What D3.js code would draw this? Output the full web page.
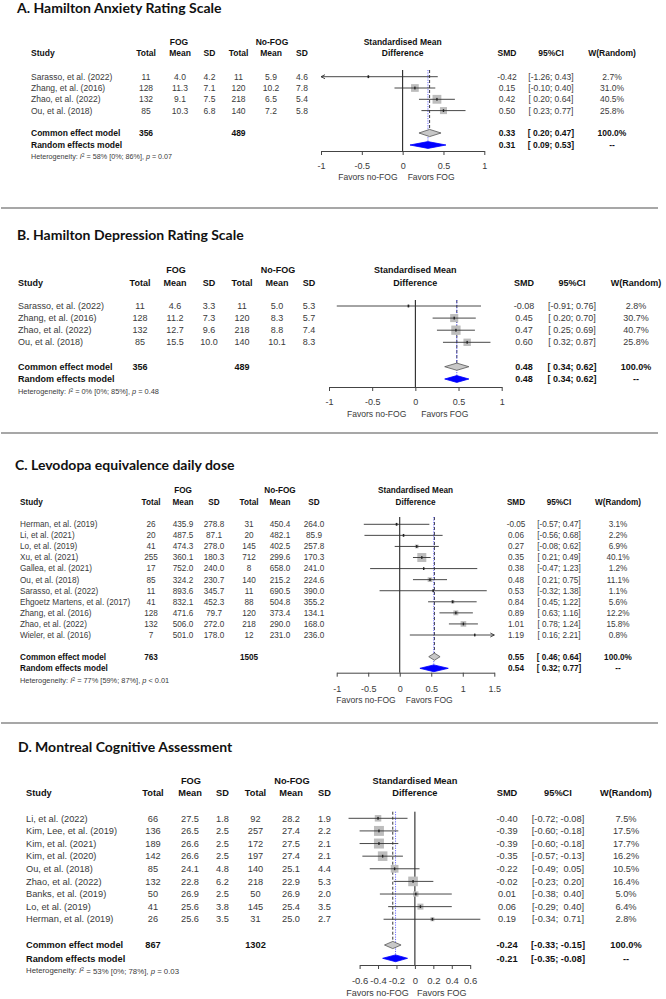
<!DOCTYPE html>
<html><head><meta charset="utf-8">
<script src="https://cdn.jsdelivr.net/npm/d3@7"></script>
<style>
html,body{margin:0;padding:0;background:#fff;}
svg text{font-family:"Liberation Sans",Arial,sans-serif;white-space:pre;}
</style></head>
<body><svg id="chart" width="666" height="999"></svg>
<script>
// ---------------- DATA ----------------
// Panel A: Hamilton Anxiety Rating Scale
const studiesA = ["Sarasso, et al. (2022)","Zhang, et al. (2016)","Zhao, et al. (2022)","Ou, et al. (2018)"];
const fogTotalA = [11,128,132,85];
const fogMeanA = [4.0,11.3,9.1,10.3];
const fogSdA = [4.2,7.1,7.5,6.8];
const nofogTotalA = [11,120,218,140];
const nofogMeanA = [5.9,10.2,6.5,7.2];
const nofogSdA = [4.6,7.8,5.4,5.8];
const smdA = [-0.42,0.15,0.42,0.50];
const ciLowA = [-1.26,-0.10,0.20,0.23];
const ciHighA = [0.43,0.40,0.64,0.77];
const weightA = [2.7,31.0,40.5,25.8];
const totalsA = [356,489];
const commonA = [0.33,0.20,0.47];
const randomA = [0.31,0.09,0.53];
const hetA = ["58%","[0%; 86%]","= 0.07"];
const ticksA = [-1,-0.5,0,0.5,1];

// Panel B: Hamilton Depression Rating Scale
const studiesB = ["Sarasso, et al. (2022)","Zhang, et al. (2016)","Zhao, et al. (2022)","Ou, et al. (2018)"];
const fogTotalB = [11,128,132,85];
const fogMeanB = [4.6,11.2,12.7,15.5];
const fogSdB = [3.3,7.3,9.6,10.0];
const nofogTotalB = [11,120,218,140];
const nofogMeanB = [5.0,8.3,8.8,10.1];
const nofogSdB = [5.3,5.7,7.4,8.3];
const smdB = [-0.08,0.45,0.47,0.60];
const ciLowB = [-0.91,0.20,0.25,0.32];
const ciHighB = [0.76,0.70,0.69,0.87];
const weightB = [2.8,30.7,40.7,25.8];
const totalsB = [356,489];
const commonB = [0.48,0.34,0.62];
const randomB = [0.48,0.34,0.62];
const hetB = ["0%","[0%; 85%]","= 0.48"];
const ticksB = [-1,-0.5,0,0.5,1];

// Panel C: Levodopa equivalence daily dose
const studiesC = ["Herman, et al. (2019)","Li, et al. (2021)","Lo, et al. (2019)","Xu, et al. (2021)","Gallea, et al. (2021)","Ou, et al. (2018)","Sarasso, et al. (2022)","Ehgoetz Martens, et al. (2017)","Zhang, et al. (2016)","Zhao, et al. (2022)","Wieler, et al. (2016)"];
const fogTotalC = [26,20,41,255,17,85,11,41,128,132,7];
const fogMeanC = [435.9,487.5,474.3,360.1,752.0,324.2,893.6,832.1,471.6,506.0,501.0];
const fogSdC = [278.8,87.1,278.0,180.3,240.0,230.7,345.7,452.3,79.7,272.0,178.0];
const nofogTotalC = [31,20,145,712,8,140,11,88,120,218,12];
const nofogMeanC = [450.4,482.1,402.5,299.6,658.0,215.2,690.5,504.8,373.4,290.0,231.0];
const nofogSdC = [264.0,85.9,257.8,170.3,241.0,224.6,390.0,355.2,134.1,168.0,236.0];
const smdC = [-0.05,0.06,0.27,0.35,0.38,0.48,0.53,0.84,0.89,1.01,1.19];
const ciLowC = [-0.57,-0.56,-0.08,0.21,-0.47,0.21,-0.32,0.45,0.63,0.78,0.16];
const ciHighC = [0.47,0.68,0.62,0.49,1.23,0.75,1.38,1.22,1.16,1.24,2.21];
const weightC = [3.1,2.2,6.9,40.1,1.2,11.1,1.1,5.6,12.2,15.8,0.8];
const totalsC = [763,1505];
const commonC = [0.55,0.46,0.64];
const randomC = [0.54,0.32,0.77];
const hetC = ["77%","[59%; 87%]","< 0.01"];
const ticksC = [-1,-0.5,0,0.5,1,1.5];

// Panel D: Montreal Cognitive Assessment
const studiesD = ["Li, et al. (2022)","Kim, Lee, et al. (2019)","Kim, et al. (2021)","Kim, et al. (2020)","Ou, et al. (2018)","Zhao, et al. (2022)","Banks, et al. (2019)","Lo, et al. (2019)","Herman, et al. (2019)"];
const fogTotalD = [66,136,189,142,85,132,50,41,26];
const fogMeanD = [27.5,26.5,26.6,26.6,24.1,22.8,26.9,25.6,25.6];
const fogSdD = [1.8,2.5,2.5,2.5,4.8,6.2,2.5,3.8,3.5];
const nofogTotalD = [92,257,172,197,140,218,50,145,31];
const nofogMeanD = [28.2,27.4,27.5,27.4,25.1,22.9,26.9,25.4,25.0];
const nofogSdD = [1.9,2.2,2.1,2.1,4.4,5.3,2.0,3.5,2.7];
const smdD = [-0.40,-0.39,-0.39,-0.35,-0.22,-0.02,0.01,0.06,0.19];
const ciLowD = [-0.72,-0.60,-0.60,-0.57,-0.49,-0.23,-0.38,-0.29,-0.34];
const ciHighD = [-0.08,-0.18,-0.18,-0.13,0.05,0.20,0.40,0.40,0.71];
const weightD = [7.5,17.5,17.7,16.2,10.5,16.4,5.0,6.4,2.8];
const totalsD = [867,1302];
const commonD = [-0.24,-0.33,-0.15];
const randomD = [-0.21,-0.35,-0.08];
const hetD = ["53%","[0%; 78%]","= 0.03"];
const ticksD = [-0.6,-0.4,-0.2,0,0.2,0.4,0.6];

const titles = ["A. Hamilton Anxiety Rating Scale","B. Hamilton Depression Rating Scale","C. Levodopa equivalence daily dose","D. Montreal Cognitive Assessment"];

// ---------------- LAYOUT ----------------
const layouts = [
 {titleX:17,titleY:13,fs:8.5,hfs:7.2,c:{study:31,fN:146,fM:180,fS:209.5,nN:238.5,nM:271,nS:302,smd:507,ci:551,w:612,fog:179,nofog:272},
  h1:42,h2:53,row0:76.7,step:11.3,comY:133,ranY:145,hetY:156,axisY:151,tickY:166,favY:177,zeroTop:70,
  xr:[321,484.3],clip:[-1,1],side:8.8,gapL:5,gapR:5,tfs:9},
 {titleX:17,titleY:240,fs:9,hfs:7.4,c:{study:18,fN:140,fM:175,fS:209,nN:242,nM:277,nS:309,smd:524,ci:572,w:636,fog:176,nofog:278},
  h1:270,h2:282.7,row0:306,step:12.1,comY:366.7,ranY:379,hetY:391,axisY:387,tickY:402,favY:414,zeroTop:300,
  xr:[329,501.7],clip:[-1,1],side:9.3,gapL:9,gapR:6,tfs:9},
 {titleX:15,titleY:470,fs:8.2,hfs:7.4,c:{study:20,fN:151,fM:183,fS:214,nN:249,nM:280,nS:314,smd:516,ci:559,w:618,fog:183,nofog:280},
  h1:490,h2:502,row0:524.3,step:11.07,comY:656.7,ranY:668.3,hetY:680,axisY:672.7,tickY:689,favY:700,zeroTop:517,
  xr:[336.7,494.3],clip:[-1,1.5],side:9,gapL:4,gapR:6,tfs:9},
 {titleX:18,titleY:752,fs:9.25,hfs:7.8,c:{study:26,fN:153,fM:190,fS:222.5,nN:255.5,nM:291,nS:324.5,smd:507,ci:558,w:626,fog:191,nofog:292},
  h1:780.7,h2:793,row0:818.3,step:12.62,comY:945,ranY:958.3,hetY:970.7,axisY:965,tickY:981,favY:993,zeroTop:811.7,
  xr:[359.6,470.2],clip:[-0.8,0.8],side:10,gapL:6,gapR:2,tfs:9.5}
];

const panelData = [
 {studies:studiesA,fN:fogTotalA,fM:fogMeanA,fS:fogSdA,nN:nofogTotalA,nM:nofogMeanA,nS:nofogSdA,smd:smdA,lo:ciLowA,hi:ciHighA,w:weightA,tot:totalsA,com:commonA,ran:randomA,het:hetA,ticks:ticksA},
 {studies:studiesB,fN:fogTotalB,fM:fogMeanB,fS:fogSdB,nN:nofogTotalB,nM:nofogMeanB,nS:nofogSdB,smd:smdB,lo:ciLowB,hi:ciHighB,w:weightB,tot:totalsB,com:commonB,ran:randomB,het:hetB,ticks:ticksB},
 {studies:studiesC,fN:fogTotalC,fM:fogMeanC,fS:fogSdC,nN:nofogTotalC,nM:nofogMeanC,nS:nofogSdC,smd:smdC,lo:ciLowC,hi:ciHighC,w:weightC,tot:totalsC,com:commonC,ran:randomC,het:hetC,ticks:ticksC},
 {studies:studiesD,fN:fogTotalD,fM:fogMeanD,fS:fogSdD,nN:nofogTotalD,nM:nofogMeanD,nS:nofogSdD,smd:smdD,lo:ciLowD,hi:ciHighD,w:weightD,tot:totalsD,com:commonD,ran:randomD,het:hetD,ticks:ticksD}
];

const separators = [208,433,723];

// ---------------- DRAW ----------------
const svg = d3.select("#chart");
const f1 = d3.format(".1f"), f2 = d3.format(".2f");
const num = v => (v < 0 ? "-" : "") + f2(Math.abs(v));
const TXT = "#3a3a3a";

svg.selectAll("line.sep").data(separators).join("line")
  .attr("x1",1).attr("x2",658).attr("y1",d=>d).attr("y2",d=>d)
  .attr("stroke","#8a8a8a").attr("stroke-width",1.3);

panelData.forEach((D,pi)=>{
  const L = layouts[pi];
  const g = svg.append("g");
  const x = d3.scaleLinear().domain([D.ticks[0], D.ticks[D.ticks.length-1]]).range(L.xr);
  const [xmin,xmax] = L.clip;

  // Title
  g.append("text").attr("x",L.titleX).attr("y",L.titleY)
    .style("font-family","Lato, 'Open Sans', sans-serif").style("font-weight",700).style("font-size","14px")
    .attr("fill","#111").text(titles[pi]);

  const t = (xx,yy,str,anchor,bold,size,fill)=>g.append("text").attr("x",xx).attr("y",yy).attr("dy","0.35em")
      .attr("text-anchor",anchor||"middle").style("font-size",(size||L.fs)+"px")
      .style("font-weight",bold?"bold":"normal").attr("fill",fill||(bold?"#111":TXT)).text(str);

  // headers
  const C = L.c;
  t(C.fog,L.h1,"FOG","middle",true);
  t(C.nofog,L.h1,"No-FOG","middle",true);
  t(C.study,L.h2,"Study","start",true);
  t(C.fN,L.h2,"Total","middle",true);
  t(C.fM,L.h2,"Mean","middle",true);
  t(C.fS,L.h2,"SD","middle",true);
  t(C.nN,L.h2,"Total","middle",true);
  t(C.nM,L.h2,"Mean","middle",true);
  t(C.nS,L.h2,"SD","middle",true);
  const plotMid = (L.xr[0]+L.xr[1])/2;
  t(plotMid,L.h1,"Standardised Mean","middle",true);
  t(plotMid,L.h2,"Difference","middle",true);
  t(C.smd,L.h2,"SMD","middle",true);
  t(C.ci,L.h2,"95%CI","middle",true);
  t(C.w,L.h2,"W(Random)","middle",true);

  const ry = i => L.row0 + i*L.step;
  const padLo = D.lo.some(v=>v<0) || D.com[1]<0 || D.ran[1]<0;
  const padHi = D.hi.some(v=>v<0) || D.com[2]<0 || D.ran[2]<0;
  const ciStr = (lo,hi)=>"[" + (padLo && lo>=0 ? " " : "") + num(lo) + "; " + (padHi && hi>=0 ? " " : "") + num(hi) + "]";

  D.studies.forEach((s,i)=>{
    const y = ry(i);
    t(C.study,y,s,"start");
    t(C.fN,y,String(D.fN[i]));
    t(C.fM,y,f1(D.fM[i]));
    t(C.fS,y,f1(D.fS[i]));
    t(C.nN,y,String(D.nN[i]));
    t(C.nM,y,f1(D.nM[i]));
    t(C.nS,y,f1(D.nS[i]));
    t(C.smd,y,num(D.smd[i]));
    t(C.ci,y,ciStr(D.lo[i],D.hi[i]));
    t(C.w,y,f1(D.w[i])+"%");
  });
  // pooled rows
  t(C.study,L.comY,"Common effect model","start",true);
  t(C.study,L.ranY,"Random effects model","start",true);
  t(C.fN,L.comY,String(D.tot[0]),"middle",true);
  t(C.nN,L.comY,String(D.tot[1]),"middle",true);
  t(C.smd,L.comY,num(D.com[0]),"middle",true);
  t(C.ci,L.comY,ciStr(D.com[1],D.com[2]),"middle",true);
  t(C.w,L.comY,"100.0%","middle",true);
  t(C.smd,L.ranY,num(D.ran[0]),"middle",true);
  t(C.ci,L.ranY,ciStr(D.ran[1],D.ran[2]),"middle",true);
  t(C.w,L.ranY,"--","middle",true);

  // heterogeneity
  const ht = g.append("text").attr("x",C.study).attr("y",L.hetY).attr("dy","0.35em")
     .style("font-size",L.hfs+"px").attr("fill",TXT);
  ht.append("tspan").text("Heterogeneity: ");
  ht.append("tspan").style("font-style","italic").text("I");
  ht.append("tspan").attr("dy","-0.4em").style("font-size",(L.hfs*0.7)+"px").text("2");
  ht.append("tspan").attr("dy","0.4em").text(" = "+D.het[0]+" "+D.het[1]+", ");
  ht.append("tspan").style("font-style","italic").text("p");
  ht.append("tspan").text(" "+D.het[2]);

  // zero line
  g.append("line").attr("x1",x(0)).attr("x2",x(0)).attr("y1",L.zeroTop).attr("y2",L.axisY)
    .attr("stroke","#111").attr("stroke-width",1);
  // common dashed & random dotted
  g.append("line").attr("x1",x(D.com[0])).attr("x2",x(D.com[0])).attr("y1",L.zeroTop).attr("y2",L.comY)
    .attr("stroke","#222").attr("stroke-width",0.9).attr("stroke-dasharray","3,2");
  g.append("line").attr("x1",x(D.ran[0])).attr("x2",x(D.ran[0])).attr("y1",L.zeroTop).attr("y2",L.ranY)
    .attr("stroke","#5a5aff").attr("stroke-width",0.9).attr("stroke-dasharray","1.2,1.2");

  // CI lines, squares
  const wmax = d3.max(D.w);
  D.studies.forEach((s,i)=>{
    const y = ry(i);
    const lo = Math.max(D.lo[i],xmin), hi = Math.min(D.hi[i],xmax);
    const side = Math.max(1.8, L.side*Math.sqrt(D.w[i]/wmax));
    g.append("rect").attr("x",x(D.smd[i])-side/2).attr("y",y-side/2).attr("width",side).attr("height",side)
      .attr("fill","#bdbdbd");
    g.append("line").attr("x1",x(lo)).attr("x2",x(hi)).attr("y1",y).attr("y2",y)
      .attr("stroke","#333").attr("stroke-width",0.9);
    g.append("rect").attr("x",x(D.smd[i])-0.7).attr("y",y-1.4).attr("width",1.4).attr("height",2.8).attr("fill","#222");
    if (D.lo[i] < xmin) {
      g.append("path").attr("d",`M${x(xmin)+4},${y-2}L${x(xmin)},${y}L${x(xmin)+4},${y+2}`)
        .attr("fill","none").attr("stroke","#333").attr("stroke-width",0.9);
    }
    if (D.hi[i] > xmax) {
      g.append("path").attr("d",`M${x(xmax)-4},${y-2}L${x(xmax)},${y}L${x(xmax)-4},${y+2}`)
        .attr("fill","none").attr("stroke","#333").attr("stroke-width",0.9);
    }
  });
  // diamonds
  const dia = (v,y,h)=>`M${x(v[1])},${y}L${x(v[0])},${y-h}L${x(v[2])},${y}L${x(v[0])},${y+h}Z`;
  g.append("path").attr("d",dia(D.com,L.comY,3.6)).attr("fill","#c8c8c8").attr("stroke","#555").attr("stroke-width",0.8);
  g.append("path").attr("d",dia(D.ran,L.ranY,3.4)).attr("fill","#0000ff").attr("stroke","#0000ff").attr("stroke-width",0.8);

  // axis
  const ax = g.append("g").attr("transform",`translate(0,${L.axisY})`)
    .call(d3.axisBottom(x).tickValues(D.ticks).tickSize(4).tickSizeOuter(0).tickFormat(d=>String(d)));
  ax.select(".domain").attr("stroke","#444").attr("stroke-width",1);
  ax.selectAll(".tick line").attr("stroke","#444");
  ax.selectAll(".tick text").attr("y",L.tickY-L.axisY).attr("dy","0.35em")
    .style("font-size",L.tfs+"px").style("font-family","'Liberation Sans',Arial,sans-serif").attr("fill",TXT);

  // favors labels
  t(x(0)-L.gapL,L.favY,"Favors no-FOG","end",false,L.tfs*0.95);
  t(x(0)+L.gapR,L.favY,"Favors FOG","start",false,L.tfs*0.95);
});
</script></body></html>
